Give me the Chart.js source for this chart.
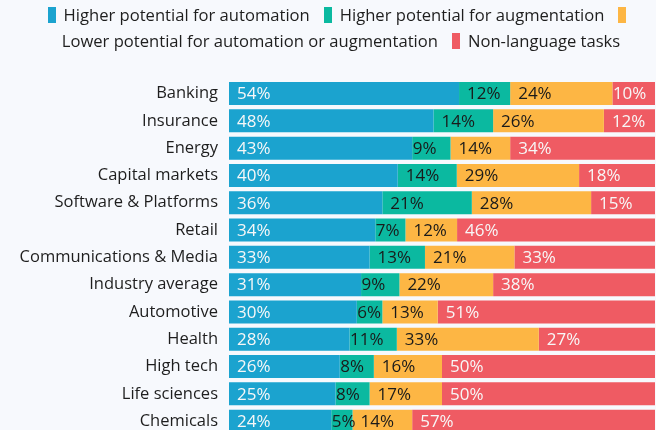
<!DOCTYPE html>
<html>
<head>
<meta charset="utf-8">
<script src="https://cdn.jsdelivr.net/npm/chart.js@4"></script>
<style>
  html, body { margin: 0; padding: 0; background: #f7f9fd; overflow: hidden; width: 656px; height: 430px; }
  #wrap { position: relative; width: 656px; height: 430px; overflow: hidden; }
  #c { position: absolute; left: 0; top: 0; }
  #legend { position: absolute; left: 26px; top: 2px; width: 630px; text-align: center;
            font-family: "Open Sans", "Noto Sans", sans-serif; font-size: 16.6px; line-height: 26px; color: #1e1e1e; white-space: nowrap; }
  #legend .box { display: inline-block; width: 8px; height: 16px; vertical-align: -2px; margin-right: 8px; }
  #legend .gap { display: inline-block; width: 14px; }
</style>
</head>
<body>
<div id="wrap">
  <canvas id="c" width="656" height="440"></canvas>
  <div id="legend"></div>
</div>
<script>
const categories = ["Banking", "Insurance", "Energy", "Capital markets", "Software & Platforms", "Retail",
  "Communications & Media", "Industry average", "Automotive", "Health", "High tech", "Life sciences", "Chemicals"];
const seriesNames = ["Higher potential for automation", "Higher potential for augmentation",
  "Lower potential for automation or augmentation", "Non-language tasks"];
const automation   = [54, 48, 43, 40, 36, 34, 33, 31, 30, 28, 26, 25, 24];
const augmentation = [12, 14,  9, 14, 21,  7, 13,  9,  6, 11,  8,  8,  5];
const lower        = [24, 26, 14, 29, 28, 12, 21, 22, 13, 33, 16, 17, 14];
const nonLanguage  = [10, 12, 34, 18, 15, 46, 33, 38, 51, 27, 50, 50, 57];
const colors = ["#1ba3cf", "#0bb9a0", "#fdb644", "#ef5b63"];
const labelColors = ["#f7f7f7", "#1a1a1a", "#1a1a1a", "#f7f7f7"];
const FONT = "'Open Sans', 'Noto Sans', sans-serif";

const seriesValues = [automation, augmentation, lower, nonLanguage];
// 100% stacked: each row's shares are scaled to its total (rounded labels may sum to 99–101)
const rowTotals = categories.map((_, i) => seriesValues.reduce((s, arr) => s + arr[i], 0));

const labelPlugin = {
  id: "segLabels",
  afterDatasetsDraw(chart) {
    const ctx = chart.ctx;
    ctx.save();
    ctx.font = "17px " + FONT;
    ctx.textBaseline = "middle";
    ctx.textAlign = "left";
    chart.data.datasets.forEach((ds, di) => {
      const meta = chart.getDatasetMeta(di);
      meta.data.forEach((el, i) => {
        const text = seriesValues[di][i] + "%";
        const w = ctx.measureText(text).width;
        const segW = Math.abs(el.x - el.base);
        const left = Math.min(el.x, el.base);
        const pad = (w + 16 <= segW) ? 8 : 0.5;
        ctx.fillStyle = labelColors[di];
        ctx.fillText(text, left + pad, el.y + 1);
      });
    });
    ctx.restore();
  }
};

const chart = new Chart(document.getElementById("c"), {
  type: "bar",
  data: {
    labels: categories,
    datasets: seriesValues.map((vals, k) => ({
      label: seriesNames[k],
      data: vals.map((v, i) => v / rowTotals[i] * 100),
      backgroundColor: colors[k],
      borderWidth: 0,
      categoryPercentage: 1,
      barPercentage: 0.842
    }))
  },
  options: {
    indexAxis: "y",
    responsive: false,
    animation: false,
    layout: { padding: { top: 79.9, bottom: 5.2, left: 0, right: 1 } },
    plugins: { legend: { display: false }, tooltip: { enabled: false } },
    scales: {
      x: { stacked: true, min: 0, max: 100, display: false },
      y: {
        stacked: true,
        grid: { display: false, drawTicks: false },
        border: { display: false },
        ticks: { padding: 11, color: "#1e1e1e", font: { family: FONT, size: 16.5 } },
        afterFit(s) { s.width = 229; s.paddingTop = 0; s.paddingBottom = 0; }
      }
    }
  },
  plugins: [labelPlugin]
});

// HTML legend built from the chart's datasets
const lg = document.getElementById("legend");
chart.data.datasets.forEach((ds, k) => {
  const box = document.createElement("span");
  box.className = "box";
  box.style.background = ds.backgroundColor;
  const txt = document.createElement("span");
  txt.textContent = ds.label;
  if (k > 0) { const g = document.createElement("span"); g.className = "gap"; lg.appendChild(g); }
  lg.appendChild(box);
  if (k === 2) lg.appendChild(document.createElement("br"));
  lg.appendChild(txt);
});
</script>
</body>
</html>
